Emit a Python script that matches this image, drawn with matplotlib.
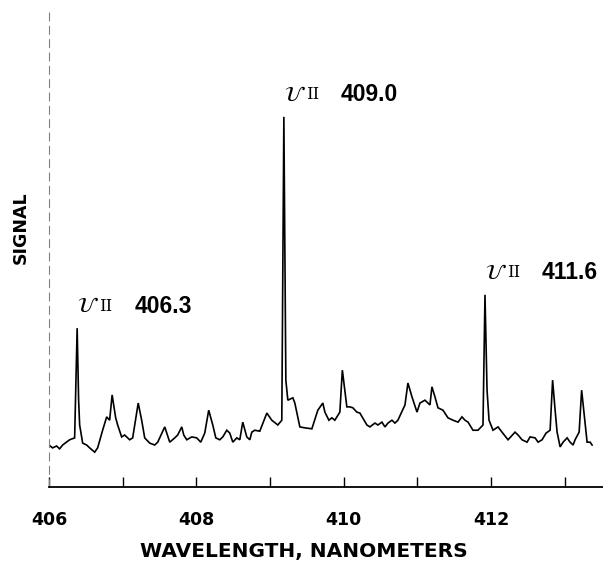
import matplotlib
matplotlib.use("Agg")
import matplotlib.pyplot as plt
import numpy as np

# spectrum trace (wavelength in nm, signal in % of full scale)
wavelength = [
    406.000, 406.049, 406.103, 406.144, 406.185, 406.280, 406.348, 406.382, 406.402, 406.416,
    406.457, 406.511, 406.552, 406.620, 406.660, 406.728, 406.783, 406.823, 406.857, 406.905,
    406.932, 406.986, 407.027, 407.095, 407.136, 407.211, 407.258, 407.299, 407.367, 407.435,
    407.476, 407.571, 407.598, 407.639, 407.707, 407.747, 407.802, 407.829, 407.870, 407.938,
    408.005, 408.060, 408.114, 408.168, 408.223, 408.264, 408.318, 408.359, 408.413, 408.454,
    408.495, 408.549, 408.590, 408.630, 408.685, 408.726, 408.753, 408.793, 408.861, 408.957,
    409.024, 409.106, 409.160, 409.188, 409.215, 409.242, 409.310, 409.337, 409.405, 409.473,
    409.568, 409.649, 409.717, 409.745, 409.799, 409.840, 409.880, 409.948, 409.982, 410.043,
    410.084, 410.125, 410.179, 410.220, 410.315, 410.356, 410.424, 410.465, 410.519, 410.560,
    410.601, 410.655, 410.696, 410.736, 410.832, 410.872, 410.927, 410.995, 411.035, 411.103,
    411.171, 411.198, 411.239, 411.280, 411.348, 411.416, 411.484, 411.552, 411.606, 411.647,
    411.688, 411.755, 411.823, 411.891, 411.918, 411.946, 411.973, 412.027, 412.095, 412.149,
    412.231, 412.326, 412.367, 412.421, 412.489, 412.530, 412.598, 412.639, 412.693, 412.747,
    412.802, 412.836, 412.870, 412.897, 412.938, 412.978, 413.033, 413.073, 413.114, 413.141,
    413.196, 413.230, 413.277, 413.304, 413.345, 413.372,
]
signal = [
    8.8, 8.2, 8.6, 8.0, 8.8, 9.9, 10.3, 33.3, 18.2, 13.0,
    9.2, 8.8, 8.2, 7.3, 8.2, 11.9, 14.7, 14.0, 19.3, 14.5,
    13.0, 10.5, 10.9, 9.9, 10.3, 17.6, 14.0, 10.3, 9.2, 8.8,
    9.4, 12.6, 11.3, 9.4, 10.3, 10.9, 12.6, 10.9, 9.9, 10.5,
    10.3, 9.4, 11.3, 16.1, 13.0, 10.3, 9.9, 10.5, 11.9, 11.3,
    9.4, 10.3, 9.9, 13.6, 10.5, 9.9, 11.5, 11.9, 11.7, 15.5,
    14.0, 13.0, 14.0, 77.6, 22.4, 18.2, 18.7, 17.6, 12.6, 12.4,
    12.2, 16.1, 17.6, 15.7, 14.0, 14.5, 14.0, 15.7, 24.5, 16.8,
    16.8, 16.6, 15.7, 15.5, 13.0, 12.6, 13.4, 13.0, 13.6, 12.6,
    13.4, 14.0, 13.4, 14.0, 17.2, 21.8, 18.9, 15.7, 17.6, 18.2,
    17.2, 21.0, 18.9, 16.6, 16.1, 14.5, 14.0, 13.6, 14.7, 14.0,
    13.6, 11.9, 11.9, 13.0, 40.3, 20.3, 14.0, 11.9, 12.6, 11.5,
    9.9, 11.5, 10.9, 9.9, 9.4, 10.5, 10.3, 9.4, 9.9, 11.3,
    11.9, 22.4, 16.1, 11.5, 8.4, 9.4, 10.3, 9.4, 8.8, 9.9,
    11.5, 20.3, 13.4, 9.4, 9.4, 8.8,
]

# U II lines that are labelled
line_names = ["406.3", "409.0", "411.6"]
line_index = [7, 63, 114]   # index of each labelled peak in the trace

fig = plt.figure(figsize=(6.03, 5.72), dpi=100)
ax = fig.add_axes([49 / 603, 85 / 572, 554 / 603, 477 / 572])

ax.plot(wavelength, signal, color="black", lw=1.2, solid_joinstyle="miter")

ax.set_xlim(406.0, 413.52)
ax.set_ylim(0, 100)

ax.set_xticks(np.arange(406, 414, 1))
ax.set_xticklabels(["406", "", "408", "", "410", "", "412", ""],
                   fontsize=12.5, fontweight="bold")
ax.tick_params(axis="x", direction="in", length=7, width=1, pad=17)
ax.set_yticks([])

for side in ["top", "right"]:
    ax.spines[side].set_visible(False)
ax.spines["bottom"].set_linewidth(1.3)
ax.spines["left"].set_color("0.5")
ax.spines["left"].set_linewidth(0.8)
ax.spines["left"].set_linestyle((0, (7, 5)))

# peak labels: script U, roman II, then the wavelength
px = 72 / 100  # points per pixel
for name, i in zip(line_names, line_index):
    xy = (wavelength[i], signal[i])
    ax.annotate(r"$\mathcal{U}$", xy, xytext=(0, 22 * px), textcoords="offset points",
                ha="left", va="center", fontsize=15)
    ax.annotate("II", xy, xytext=(22 * px, 22 * px), textcoords="offset points",
                ha="left", va="center", fontsize=12, family="DejaVu Serif")
    ax.annotate(name, xy, xytext=(57 * px, 22 * px), textcoords="offset points",
                ha="left", va="center", fontsize=16.5, fontweight="bold",
                family="Liberation Sans")

fig.text(303.5 / 603, 1 - 552 / 572, "WAVELENGTH, NANOMETERS", ha="center", va="center",
         fontsize=14.5, fontweight="bold")
fig.text(21 / 603, 1 - 228 / 572, "SIGNAL", ha="center", va="center", rotation=90,
         fontsize=12.5, fontweight="bold")

fig.savefig("out.png", dpi=100)
